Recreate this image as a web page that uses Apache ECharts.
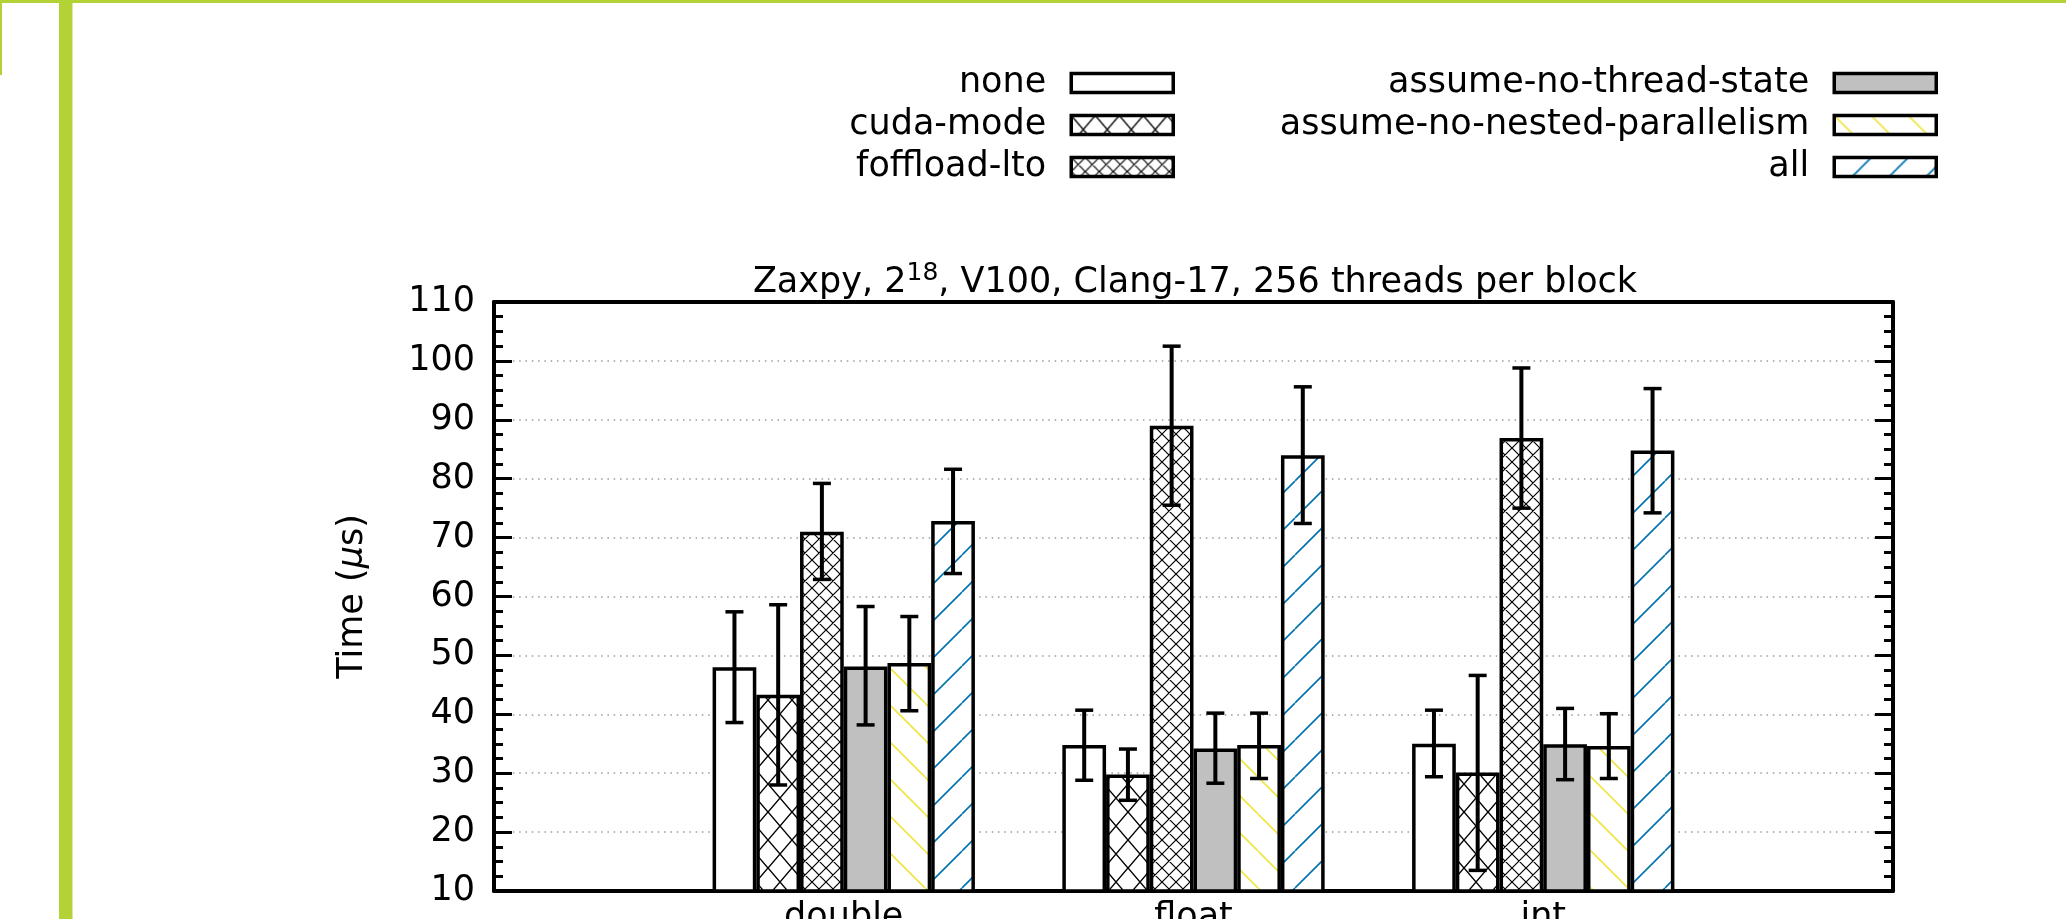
<!DOCTYPE html>
<html>
<head>
<meta charset="utf-8">
<script src="https://cdn.jsdelivr.net/npm/echarts@6/dist/echarts.min.js"></script>
<style>
html,body{margin:0;padding:0;background:#fff;}
#chart{width:2066px;height:919px;}
</style>
</head>
<body>
<div id="chart"></div>
<script>
// ---------------- data ----------------
const categories = ['double', 'float', 'int'];
const seriesNames = ['none', 'cuda-mode', 'foffload-lto', 'assume-no-thread-state', 'assume-no-nested-parallelism', 'all'];

const noneVals  = [48.0, 34.8, 35.0];
const noneLow   = [38.6, 28.8, 29.4];
const noneHigh  = [57.4, 40.7, 40.7];

const cudaVals  = [43.3, 29.8, 30.1];
const cudaLow   = [28.0, 25.4, 13.5];
const cudaHigh  = [58.6, 34.1, 46.6];

const offloadVals = [71.0, 89.0, 86.9];
const offloadLow  = [62.9, 75.5, 75.0];
const offloadHigh = [79.2, 102.5, 98.8];

const antsVals  = [48.1, 34.2, 34.9];
const antsLow   = [38.2, 28.3, 28.9];
const antsHigh  = [58.3, 40.2, 41.0];

const annpVals  = [48.7, 34.8, 34.6];
const annpLow   = [40.6, 29.1, 29.1];
const annpHigh  = [56.6, 40.2, 40.1];

const allVals   = [72.8, 84.0, 84.8];
const allLow    = [63.9, 72.4, 74.2];
const allHigh   = [81.6, 95.6, 95.3];

const yMin = 10, yMax = 110, yStep = 10;
const titleMain1 = 'Zaxpy, 2';
const titleSup = '18';
const titleMain2 = ', V100, Clang-17, 256 threads per block';
const yAxisTitle = 'Time ({i|μ}s)';

// ---------------- styles ----------------
const FONT = 'DejaVu Sans';
const FS = 35;
const BAR_FRACTION = 0.125;

function makePattern(w, h, bg, color, lw, kind) {
  const c = document.createElement('canvas');
  c.width = w; c.height = h;
  const g = c.getContext('2d');
  g.fillStyle = bg; g.fillRect(0, 0, w, h);
  g.strokeStyle = color; g.lineWidth = lw;
  g.beginPath();
  for (let dx = -w; dx <= w; dx += w) {
    if (kind === 'cross' || kind === 'back') { g.moveTo(dx, 0); g.lineTo(dx + w, h); }
    if (kind === 'cross' || kind === 'fwd')  { g.moveTo(dx, h); g.lineTo(dx + w, 0); }
  }
  g.stroke();
  return { image: c, repeat: 'repeat' };
}

const fills = [
  '#ffffff',
  makePattern(24, 28, '#ffffff', '#000000', 1.4, 'cross'),
  makePattern(14, 14, '#ffffff', '#000000', 1.2, 'cross'),
  '#c0c0c0',
  makePattern(37, 37, '#ffffff', '#f0e442', 1.6, 'back'),
  makePattern(37, 37, '#ffffff', '#0072b2', 1.6, 'fwd')
];

const valsList = [noneVals, cudaVals, offloadVals, antsVals, annpVals, allVals];
const lowList  = [noneLow, cudaLow, offloadLow, antsLow, annpLow, allLow];
const highList = [noneHigh, cudaHigh, offloadHigh, antsHigh, annpHigh, allHigh];

const xData = [''].concat(categories, ['']);

const barSeries = seriesNames.map((name, si) => ({
  name: name,
  type: 'bar',
  barWidth: (BAR_FRACTION * 100) + '%',
  barGap: '0%',
  z: 3,
  itemStyle: { color: fills[si], borderColor: '#000', borderWidth: 3.5 },
  data: ['-'].concat(valsList[si], ['-'])
}));

const errData = [];
seriesNames.forEach((name, si) => {
  categories.forEach((c, ci) => {
    errData.push([ci + 1, si, lowList[si][ci], highList[si][ci]]);
  });
});

function renderErr(params, api) {
  const ci = api.value(0), si = api.value(1);
  const lo = api.coord([ci, api.value(2)]);
  const hi = api.coord([ci, api.value(3)]);
  const band = api.size([1, 0])[0];
  const bw = band * BAR_FRACTION;
  const cx = lo[0] + (si - (seriesNames.length - 1) / 2) * bw;
  const cap = 9;
  const st = { stroke: '#000', lineWidth: 3.5 };
  return {
    type: 'group',
    children: [
      { type: 'line', shape: { x1: cx, y1: lo[1], x2: cx, y2: hi[1] }, style: { stroke: '#000', lineWidth: 4 } },
      { type: 'line', shape: { x1: cx - cap, y1: lo[1], x2: cx + cap, y2: lo[1] }, style: st },
      { type: 'line', shape: { x1: cx - cap, y1: hi[1], x2: cx + cap, y2: hi[1] }, style: st }
    ]
  };
}

const legendCommon = {
  orient: 'vertical',
  align: 'right',
  icon: 'rect',
  itemWidth: 102,
  itemHeight: 19,
  itemGap: 7,
  padding: 0,
  selectedMode: false,
  top: 65.5,
  itemStyle: { borderColor: '#000', borderWidth: 3.5 },
  textStyle: { fontFamily: FONT, fontSize: FS, color: '#000', lineHeight: 22, padding: [0, 20, 0, 0] }
};

const yAxisCommon = {
  type: 'value',
  min: yMin, max: yMax, interval: yStep,
  axisLine: { show: true, lineStyle: { color: '#000', width: 4 } },
  axisTick: { show: true, inside: true, length: 18, lineStyle: { color: '#000', width: 3 } },
  minorTick: { show: true, splitNumber: 4, length: 9, lineStyle: { color: '#000', width: 3 } },
  minorSplitLine: { show: false }
};

const chart = echarts.init(document.getElementById('chart'), null, { renderer: 'canvas' });
chart.setOption({
  animation: false,
  backgroundColor: '#ffffff',
  title: {
    text: '{m|' + titleMain1 + '}{s|' + titleSup + '}{m|' + titleMain2 + '}',
    left: 1195,
    top: 261,
    textAlign: 'center',
    padding: 0,
    textStyle: {
      rich: {
        m: { fontFamily: FONT, fontSize: FS, color: '#000', lineHeight: 44, fontWeight: 'normal' },
        s: { fontFamily: FONT, fontSize: 25, color: '#000', lineHeight: 22, verticalAlign: 'top', fontWeight: 'normal' }
      }
    }
  },
  legend: [
    Object.assign({}, legendCommon, { right: 891, data: seriesNames.slice(0, 3) }),
    Object.assign({}, legendCommon, { right: 128, data: seriesNames.slice(3) })
  ],
  grid: { left: 494, right: 173, top: 302, bottom: 28, containLabel: false, outerBoundsMode: 'none' },
  xAxis: [
    {
      type: 'category',
      data: xData,
      boundaryGap: false,
      axisLine: { show: true, lineStyle: { color: '#000', width: 4 } },
      axisTick: { show: false },
      axisLabel: { show: true, interval: 0, margin: 9, fontFamily: FONT, fontSize: FS, color: '#000' },
      splitLine: { show: false }
    },
    {
      type: 'category',
      data: xData,
      boundaryGap: false,
      position: 'top',
      axisLine: { show: true, lineStyle: { color: '#000', width: 4 } },
      axisTick: { show: false },
      axisLabel: { show: false },
      splitLine: { show: false }
    }
  ],
  yAxis: [
    Object.assign({}, yAxisCommon, {
      position: 'left',
      name: yAxisTitle,
      nameLocation: 'middle',
      nameGap: 124,
      nameTextStyle: {
        fontFamily: FONT, fontSize: FS, color: '#000',
        rich: { i: { fontFamily: FONT, fontSize: FS, fontStyle: 'italic', color: '#000' } }
      },
      axisLabel: { show: true, margin: 19, fontFamily: FONT, fontSize: FS, color: '#000' },
      splitLine: { show: true, lineStyle: { color: '#9a9a9a', width: 1.5, type: [1.5, 4.8] } }
    }),
    Object.assign({}, yAxisCommon, {
      position: 'right',
      axisLabel: { show: false },
      splitLine: { show: false }
    })
  ],
  graphic: [
    { type: 'rect', left: 59, top: 0, shape: { width: 13.5, height: 919 }, style: { fill: '#b3d236' }, silent: true },
    { type: 'rect', left: 0, top: 0, shape: { width: 2066, height: 3 }, style: { fill: '#b3d236' }, silent: true },
    { type: 'rect', left: 0, top: 0, shape: { width: 2, height: 75 }, style: { fill: '#b3d236' }, silent: true }
  ],
  series: barSeries.concat([{
    type: 'custom',
    name: 'error',
    renderItem: renderErr,
    encode: { x: 0, y: [2, 3] },
    z: 5,
    data: errData
  }])
});
</script>
</body>
</html>
